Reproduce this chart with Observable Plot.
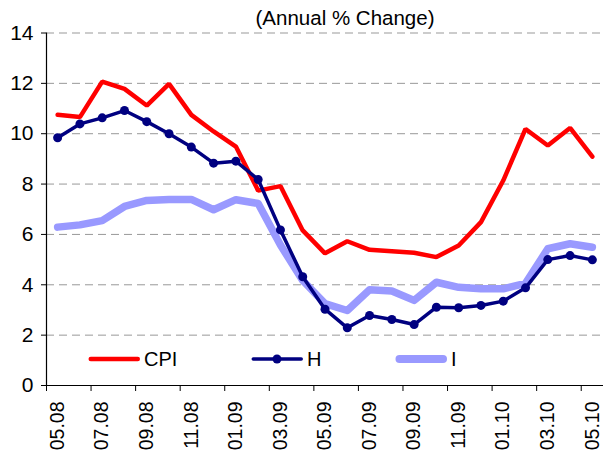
<!DOCTYPE html>
<html><head><meta charset="utf-8">
<script src="https://cdn.jsdelivr.net/npm/d3@7"></script>
<script src="https://cdn.jsdelivr.net/npm/@observablehq/plot@0.6"></script>
<style>
body{margin:0;background:#fff;font-family:"Liberation Sans",Arial,sans-serif;}
#wrap{position:relative;width:604px;height:457px;overflow:hidden;}
.lg{position:absolute;display:flex;align-items:center;font-size:20px;color:#000;height:24px;}
</style></head><body><div id="wrap"></div>
<script>
const months = ["05.08","06.08","07.08","08.08","09.08","10.08","11.08","12.08","01.09","02.09","03.09","04.09","05.09","06.09","07.09","08.09","09.09","10.09","11.09","12.09","01.10","02.10","03.10","04.10","05.10"];
const cpi = [10.75,10.66,12.07,11.78,11.12,11.98,10.75,10.09,9.49,7.74,7.92,6.16,5.25,5.73,5.39,5.33,5.27,5.10,5.56,6.49,8.14,10.19,9.53,10.23,9.09];
const hSeries = [9.84,10.39,10.63,10.92,10.48,10.00,9.47,8.83,8.91,8.18,6.18,4.32,3.03,2.29,2.78,2.62,2.42,3.11,3.09,3.18,3.35,3.88,5.00,5.16,4.99];
const iSeries = [6.29,6.38,6.55,7.11,7.35,7.39,7.39,6.98,7.38,7.23,5.58,4.17,3.25,2.98,3.80,3.75,3.38,4.10,3.90,3.84,3.84,4.06,5.43,5.63,5.49];
const seriesNames = ["CPI","H","I"];
const colors = ["#FF0000","#000080","#9999FF"];
const yTicks = [0,2,4,6,8,10,12,14];
const title = "(Annual % Change)";

const rows = months.map((m,k)=>({k, m, cpi:cpi[k], h:hSeries[k], i:iSeries[k]}));
const labelIdx = d3.range(0, months.length, 2);
const boundary = labelIdx.map(k=>k-0.5);

const chart = Plot.plot({
  width:604, height:457, marginLeft:46, marginRight:1, marginTop:32.5, marginBottom:72,
  style:{fontFamily:"'Liberation Sans', Arial, sans-serif", fontSize:"19px", color:"#000", background:"#fff"},
  x:{type:"linear", domain:[-0.5, months.length-0.5]},
  y:{domain:[0,14]},
  marks:[
    Plot.gridY(yTicks.filter(v=>v>0), {stroke:"#999", strokeOpacity:1, strokeDasharray:"8,5", strokeWidth:1}),
    Plot.line(rows,{x:"k",y:"i",stroke:colors[2],strokeWidth:7.5,strokeLinejoin:"round",strokeLinecap:"round"}),
    Plot.line(rows,{x:"k",y:"cpi",stroke:colors[0],strokeWidth:4.5,strokeLinejoin:"miter"}),
    Plot.line(rows,{x:"k",y:"h",stroke:colors[1],strokeWidth:3.5}),
    Plot.dot(rows,{x:"k",y:"h",fill:colors[1],r:4.5}),
    Plot.ruleY([0],{stroke:"#000",strokeWidth:1.2}),
    Plot.ruleX([-0.5],{stroke:"#000",strokeWidth:1.2}),
    Plot.axisY({ticks:yTicks, tickSize:5, tickPadding:8, label:null, fontSize:21}),
    Plot.axisX({ticks:boundary, tickSize:6, tickFormat:()=>"", label:null}),
    Plot.axisX({ticks:labelIdx, tickSize:0, tickPadding:16, tickRotate:-90, textAnchor:"end", tickFormat:k=>months[k], label:null, fontSize:19.5}),
    Plot.text([title], {frameAnchor:"top", dx:20, dy:-15, lineAnchor:"middle", fontSize:20.5})
  ]
});
const wrap = document.getElementById("wrap");
wrap.appendChild(chart);

// legend inside plot area
const legendItems = [
  {name:seriesNames[0], color:colors[0], w:4.5, dot:false, left:88},
  {name:seriesNames[1], color:colors[1], w:3.5, dot:true, left:251},
  {name:seriesNames[2], color:colors[2], w:8, dot:false, left:395}
];
for (const it of legendItems) {
  const d = document.createElement("div");
  d.className = "lg";
  d.style.left = it.left + "px";
  d.style.top = "347px";
  const sw = d3.create("svg").attr("width",54).attr("height",24);
  sw.append("line").attr("x1",it.w/2+0.5).attr("x2",52-it.w/2).attr("y1",12).attr("y2",12)
    .attr("stroke",it.color).attr("stroke-width",it.w).attr("stroke-linecap","round");
  if (it.dot) sw.append("circle").attr("cx",26).attr("cy",12).attr("r",4.5).attr("fill",it.color);
  d.appendChild(sw.node());
  const s = document.createElement("span");
  s.textContent = it.name;
  s.style.marginLeft = "2px";
  d.appendChild(s);
  wrap.appendChild(d);
}
</script></body></html>
